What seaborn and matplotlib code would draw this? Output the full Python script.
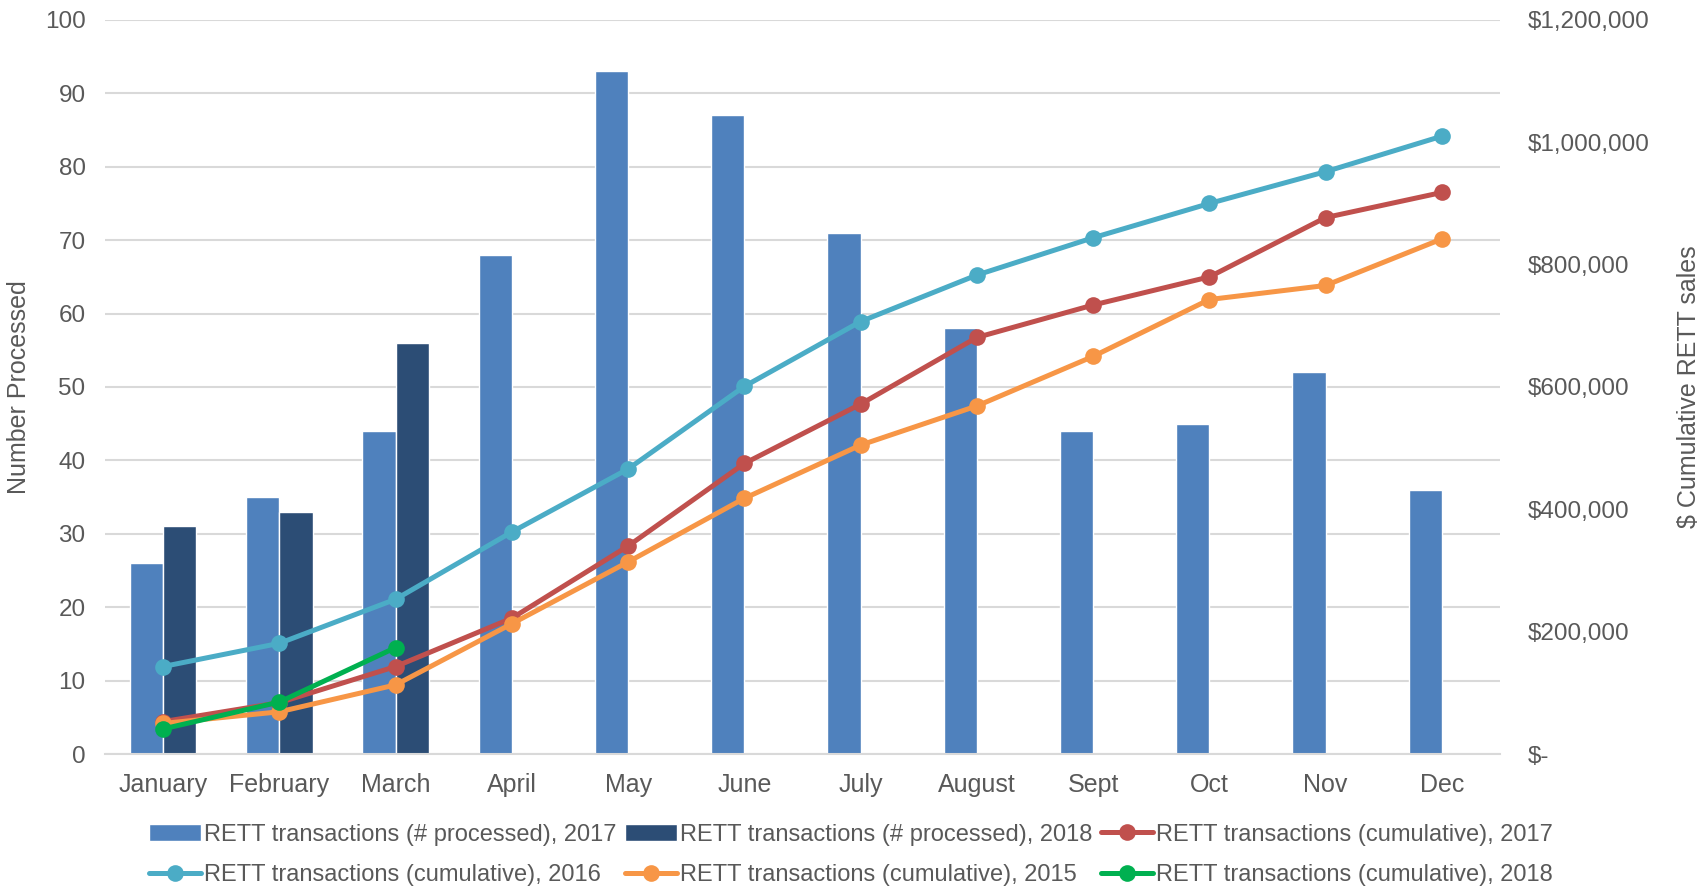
import numpy as np
import pandas as pd
import matplotlib
matplotlib.use("Agg")
import matplotlib.pyplot as plt
import seaborn as sns
from matplotlib.ticker import FuncFormatter

# data
months = ["January", "February", "March", "April", "May", "June",
          "July", "August", "Sept", "Oct", "Nov", "Dec"]
processed_2017 = [26, 35, 44, 68, 93, 87, 71, 58, 44, 45, 52, 36]
processed_2018 = [31, 33, 56]
cum_2017 = [53000, 84000, 143000, 222000, 340000, 475000, 572000, 681000,
            734000, 780000, 877000, 918000]
cum_2016 = [143000, 181000, 253000, 363000, 466000, 601000, 707000, 783000,
            844000, 900000, 952000, 1010000]
cum_2015 = [50000, 69000, 113000, 213000, 314000, 418000, 505000, 569000,
            650000, 743000, 766000, 842000]
cum_2018 = [41000, 85000, 174000]

bar_names = ["RETT transactions (# processed), 2017",
             "RETT transactions (# processed), 2018"]

sns.set_style("white")
plt.rcParams["font.family"] = ["Liberation Sans", "DejaVu Sans"]
txt = "#595959"
grid = "#D9D9D9"
fs = 17.5

bars = pd.DataFrame({
    "month": months + months[:3],
    "series": [bar_names[0]] * 12 + [bar_names[1]] * 3,
    "count": processed_2017 + processed_2018,
})

fig = plt.figure(figsize=(17.02, 8.92), dpi=100)
ax = fig.add_axes([0.0617, 0.1547, 0.8196, 0.8229])

sns.barplot(data=bars, x="month", y="count", hue="series", order=months,
            hue_order=bar_names, palette=["#4F81BD", "#2C4D75"], width=0.57,
            saturation=1, ax=ax, legend=True)
ax.set_ylim(0, 100)
ax.set_yticks(range(0, 101, 10))
ax.set_xlim(-0.5, 11.5)
ax.yaxis.grid(True, color=grid, linewidth=1.5)
ax.set_axisbelow(True)
for s in ["top", "right", "left"]:
    ax.spines[s].set_visible(False)
ax.spines["bottom"].set_color(grid)
ax.spines["bottom"].set_linewidth(1.5)
ax.tick_params(axis="both", length=0, labelsize=fs, labelcolor=txt)
ax.tick_params(axis="y", pad=14)
ax.tick_params(axis="x", labelsize=18, pad=14)
ax.set_xlabel("")
ax.set_ylabel("Number Processed", fontsize=18, color=txt)
ax.yaxis.set_label_coords(-0.053, 0.5)

ax2 = ax.twinx()
idx = np.arange(len(months))
lines = [
    (cum_2017, "#C0504D", "RETT transactions (cumulative), 2017"),
    (cum_2016, "#4BACC6", "RETT transactions (cumulative), 2016"),
    (cum_2015, "#F79646", "RETT transactions (cumulative), 2015"),
    (cum_2018, "#00B050", "RETT transactions (cumulative), 2018"),
]
for vals, col, lab in lines:
    sns.lineplot(x=idx[:len(vals)], y=vals, color=col, marker="o",
                 markersize=12, markeredgewidth=0, linewidth=3.6,
                 label=lab, ax=ax2)
ax2.set_ylim(0, 1200000)
ax2.set_yticks(range(0, 1200001, 200000))
ax2.yaxis.set_major_formatter(FuncFormatter(
    lambda v, p: "$-" if v == 0 else "${:,.0f}".format(v)))
for s in ["top", "right", "left", "bottom"]:
    ax2.spines[s].set_visible(False)
ax2.tick_params(axis="y", length=0, labelsize=fs, labelcolor=txt, pad=20)
ax2.set_ylabel("$ Cumulative RETT sales", fontsize=18, color=txt,
               rotation=90)
ax2.yaxis.set_label_coords(1.127, 0.5)

# legend below, two rows
h1, l1 = ax.get_legend_handles_labels()
h2, l2 = ax2.get_legend_handles_labels()
ax.get_legend().remove()
ax2.get_legend().remove()
hs = h1 + h2
ls = l1 + l2
order = [0, 3, 1, 4, 2, 5]
fig.legend([hs[i] for i in order], [ls[i] for i in order], ncol=3,
           loc="upper center", bbox_to_anchor=(0.5, 0.09), frameon=False,
           borderpad=0, fontsize=17, labelcolor=txt, handlelength=2.2,
           handletextpad=0.15, columnspacing=0.35, labelspacing=0.8)

fig.savefig("out.png", dpi=100)
